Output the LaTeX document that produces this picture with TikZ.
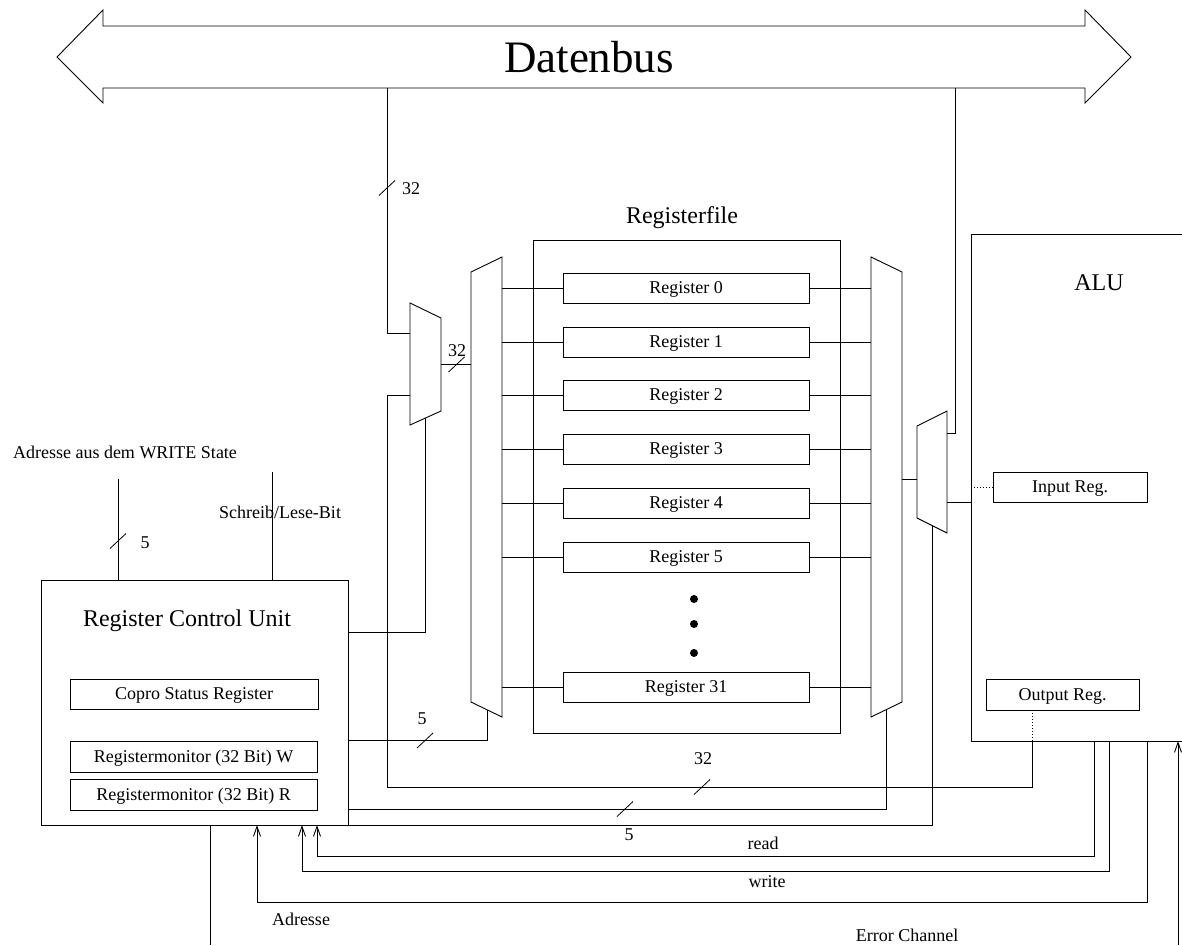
\documentclass[tikz,border=0pt]{standalone}
\usepackage{fontspec}
\setmainfont{Liberation Serif}
\usetikzlibrary{arrows.meta}
\begin{document}
\begin{tikzpicture}[x=1pt,y=-1pt,line width=0.9pt,
  lbl/.style={inner sep=0pt,font=\fontsize{18}{21}\selectfont},
  biglbl/.style={inner sep=0pt,font=\fontsize{24}{28}\selectfont},
  regbox/.style={draw,rectangle,inner sep=0pt,minimum width=246pt,minimum height=30pt,text depth=0pt,font=\fontsize{18}{21}\selectfont},
  smallbox/.style={draw,rectangle,inner sep=0pt,minimum height=30pt,text depth=0pt,font=\fontsize{18}{21}\selectfont},
  mux/.style={draw,line join=miter},
  arr/.style={-{Straight Barb[length=10pt,width=7pt]}},
  buswidth/.style={line width=0.8pt}
]
\useasboundingbox (0,0) rectangle (1182,945);
\newcommand\busmark[1]{\draw[buswidth] ([shift={(-8,7.5)}]#1) -- ([shift={(8,-7.5)}]#1);}

% data bus (double-headed block arrow)
\draw[line join=miter] (57,57) -- (103,10) -- (103,26) -- (1085,26) -- (1085,10) -- (1131,57)
  -- (1085,103) -- (1085,88) -- (103,88) -- (103,103) -- cycle;
\node[inner sep=0pt,font=\fontsize{45}{50}\selectfont] (bus) at (589,57) {Datenbus};
\coordinate (busL) at (387,88);
\coordinate (busR) at (955,88);

% register file
\node[draw,rectangle,inner sep=0pt,minimum width=307pt,minimum height=493pt] (rf) at (686.5,486.5) {};
\node[biglbl] (rflbl) at (682,218) {Registerfile};
\foreach \i/\y in {0/288,1/342,2/395,3/449,4/503,5/557,31/687}
  \node[regbox] (R\i) at (686,\y) {Register \i};
\foreach \y in {599,624,653}
  \fill[black] (694,\y) circle (4pt);

% multiplexers
\draw[mux] (410,303) -- (441,318) -- (441,411) -- (410,425) -- cycle;
\coordinate (mA-in1) at (410,333);
\coordinate (mA-in2) at (410,395);
\coordinate (mA-out) at (441,364);
\coordinate (mA-sel) at (425,418);

\draw[mux] (471,272) -- (502,257) -- (502,717) -- (471,702) -- cycle;
\coordinate (mB-in) at (471,364);
\coordinate (mB-e) at (502,480);
\coordinate (mB-sel) at (487,710);

\draw[mux] (871,257) -- (902,272) -- (902,702) -- (871,717) -- cycle;
\coordinate (mC-w) at (871,480);
\coordinate (mC-out) at (902,479);
\coordinate (mC-sel) at (886,710);

\draw[mux] (917,426) -- (947,411) -- (947,533) -- (917,518) -- cycle;
\coordinate (mD-in) at (917,479);
\coordinate (mD-bus) at (947,433);
\coordinate (mD-out) at (947,502);
\coordinate (mD-sel) at (932,526);

% register lines to both multiplexers
\foreach \i in {0,1,2,3,4,5,31}{
  \draw (mB-e |- R\i.west) -- (R\i.west);
  \draw (R\i.east) -- (mC-w |- R\i.east);
}

% ALU (open to the right)
\draw (1190,234) -- (971,234) -- (971,741) -- (1190,741);
\node[biglbl] (alu) at (1099,283) {ALU};
\node[smallbox,minimum width=154pt] (inreg) at (1070,487) {Input Reg.};
\node[smallbox,minimum width=153pt,minimum height=31pt] (outreg) at (1062.5,694.5) {Output Reg.};
\coordinate (alu-in) at (971,502);
\coordinate (alu-inreg) at (971,487);
\coordinate (alu-out) at (1032,741);
\coordinate (alu-rd) at (1094,741);
\coordinate (alu-wr) at (1109,741);
\coordinate (alu-ad) at (1147,741);
\coordinate (alu-err) at (1178,741);
\coordinate (err-in) at (1178,945);

% register control unit
\node[draw,rectangle,inner sep=0pt,minimum width=307pt,minimum height=245pt] (rcu) at (194.5,702.5) {};
\node[biglbl] (rculbl) at (187,621) {Register Control Unit};
\node[smallbox,minimum width=248pt] (copro) at (194,694) {Copro Status Register};
\node[smallbox,minimum width=247pt,minimum height=31pt] (monw) at (193.5,756.5) {Registermonitor (32 Bit) W};
\node[smallbox,minimum width=247pt,minimum height=31pt] (monr) at (193.5,794.5) {Registermonitor (32 Bit) R};
\coordinate (rcu-a) at (348,632);
\coordinate (rcu-b) at (348,740);
\coordinate (rcu-c) at (348,809);
\coordinate (rcu-rd) at (317,825);
\coordinate (rcu-wr) at (302,825);
\coordinate (rcu-ad) at (257,825);
\coordinate (rcu-out) at (210,825);
\coordinate (rcu-out-end) at (210,945);
\coordinate (rcu-addr) at (118,580);
\coordinate (addr-in) at (118,479);
\coordinate (rcu-rw) at (272,580);
\coordinate (rw-in) at (272,472);

% connections
\draw (busL) |- (mA-in1);
\coordinate (loop32) at (387,787);
\draw (mA-in2) -| (loop32) -| (alu-out);
\draw[dotted,line width=1pt] (alu-out) -- (alu-out |- outreg.south);
\draw (mA-out) -- (mB-in);
\draw (rcu-a) -| (mA-sel);
\draw (rcu-b) -| (mB-sel);
\draw (rcu-c) -| (mC-sel);
\draw (rcu.south east) -| (mD-sel);
\draw (busR) |- (mD-bus);
\draw (mC-out) -- (mD-in);
\draw (mD-out) -- (alu-in);
\draw[dotted,line width=1pt] (alu-inreg) -- (inreg.west);

\coordinate (rd-c) at (317,856);
\coordinate (wr-c) at (302,871);
\coordinate (ad-c) at (257,902);
\draw[arr] (alu-rd) |- (rd-c) -- (rcu-rd);
\draw[arr] (alu-wr) |- (wr-c) -- (rcu-wr);
\draw[arr] (alu-ad) |- (ad-c) -- (rcu-ad);
\draw[arr] (err-in) -- (alu-err);
\draw (rcu-out) -- (rcu-out-end);
\draw (addr-in) -- (rcu-addr);
\draw (rw-in) -- (rcu-rw);

% bus width marks
\coordinate (bm1) at (387,188);
\coordinate (bm2) at (456.5,364.5);
\coordinate (bm3) at (425,740.5);
\coordinate (bm4) at (702,787);
\coordinate (bm5) at (625,809);
\coordinate (bm6) at (118,541);
\busmark{bm1}\busmark{bm2}\busmark{bm3}\busmark{bm4}\busmark{bm5}\busmark{bm6}
\node[lbl] (w1) at (411,189) {32};
\node[lbl] (w2) at (457,351) {32};
\node[lbl] (w3) at (422,719) {5};
\node[lbl] (w4) at (703,759) {32};
\node[lbl] (w5) at (629,835) {5};
\node[lbl] (w6) at (145,543) {5};

% signal labels
\node[lbl] (addrlbl) at (125,452) {Adresse aus dem WRITE State};
\node[lbl] (rwlbl) at (280,512) {Schreib/Lese-Bit};
\node[lbl] (rdlbl) at (763,843) {read};
\node[lbl] (wrlbl) at (767,882) {write};
\node[lbl] (adlbl) at (301,919) {Adresse};
\node[lbl] (errlbl) at (907,935) {Error Channel};
\end{tikzpicture}
\end{document}
